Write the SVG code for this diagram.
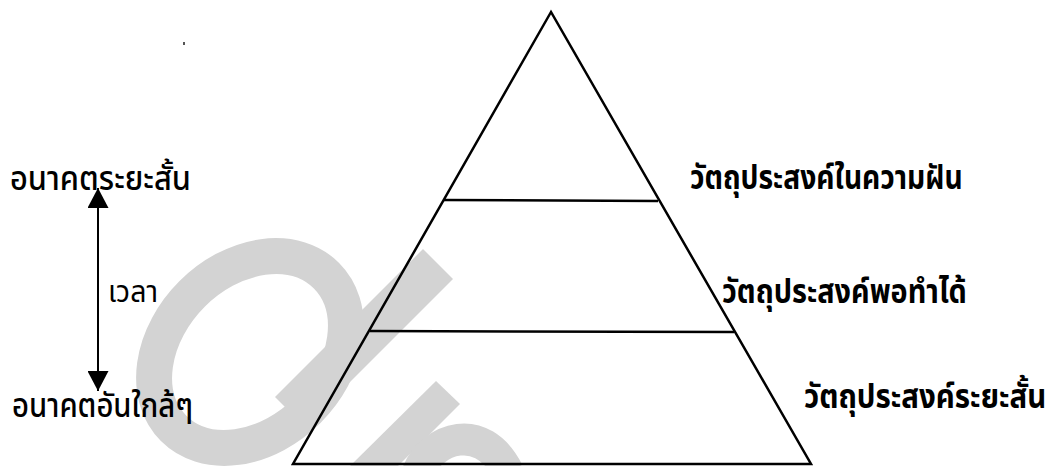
<svg xmlns="http://www.w3.org/2000/svg" width="1051" height="466" viewBox="0 0 1051 466">
  <style>
    .wm { fill: #d3d3d3; }
    .wms { fill: none; stroke: #d3d3d3; }
    .edge { stroke: #000; stroke-width: 2.5; fill: none; }
    .lbl { font-family: "Noto Sans Thai", "Noto Sans", "DejaVu Sans", sans-serif; fill: #000; }
    .right { font-size: 33px; font-weight: bold; }
    .left { font-size: 33px; font-weight: 500; }
    .small { font-size: 30px; }
  </style>
  <defs>
    <marker id="ah" viewBox="0 0 20 21" refX="20" refY="10.5" markerWidth="20" markerHeight="21" markerUnits="userSpaceOnUse" orient="auto-start-reverse">
      <path d="M0,0 L20,10.5 L0,21 Z" fill="#000"/>
    </marker>
  </defs>
  <rect width="1051" height="466" fill="#fff"/>

  <g id="watermark">
    <ellipse class="wms" cx="250" cy="352" rx="108" ry="82" stroke-width="36" transform="rotate(-45 250 352)"/>
    <polygon class="wm" points="423,249 453,279 305,427 275,397"/>
    <polygon class="wm" points="436,381 460,404 372,492 348,468"/>
    <path class="wms" d="M 418 472 C 432 438, 482 420, 508 472" stroke-width="32"/>
    <rect x="183" y="42" width="2" height="3" fill="#555"/>
  </g>

  <g id="pyramid">
    <polygon class="edge" points="551,12 293,464 811,464"/>
    <line class="edge" x1="444" y1="200" x2="658" y2="201"/>
    <line class="edge" x1="370" y1="331" x2="734" y2="332"/>
  </g>

  <g id="connectors">
    <line x1="98" y1="188" x2="98" y2="391" stroke="#000" stroke-width="2" marker-start="url(#ah)" marker-end="url(#ah)"/>
  </g>

  <g id="label-near-future-top">
    <text class="lbl left" x="10" y="190" textLength="181" lengthAdjust="spacingAndGlyphs">อนาคตระยะสั้น</text>
  </g>
  <g id="label-time">
    <text class="lbl small" x="108" y="302" textLength="50" lengthAdjust="spacingAndGlyphs">เวลา</text>
  </g>
  <g id="label-near-future-bottom">
    <text class="lbl left" x="12" y="417" textLength="181" lengthAdjust="spacingAndGlyphs">อนาคตอันใกล้ๆ</text>
  </g>
  <g id="label-dream">
    <text class="lbl right" transform="translate(690 189) scale(0.85 1)" x="0" y="0" textLength="321" lengthAdjust="spacingAndGlyphs">วัตถุประสงค์ในความฝัน</text>
  </g>
  <g id="label-feasible">
    <text class="lbl right" transform="translate(722 303) scale(0.85 1)" x="0" y="0" textLength="288" lengthAdjust="spacingAndGlyphs">วัตถุประสงค์พอทำได้</text>
  </g>
  <g id="label-short">
    <text class="lbl right" transform="translate(804 408) scale(0.85 1)" x="0" y="0" textLength="285" lengthAdjust="spacingAndGlyphs">วัตถุประสงค์ระยะสั้น</text>
  </g>
</svg>
